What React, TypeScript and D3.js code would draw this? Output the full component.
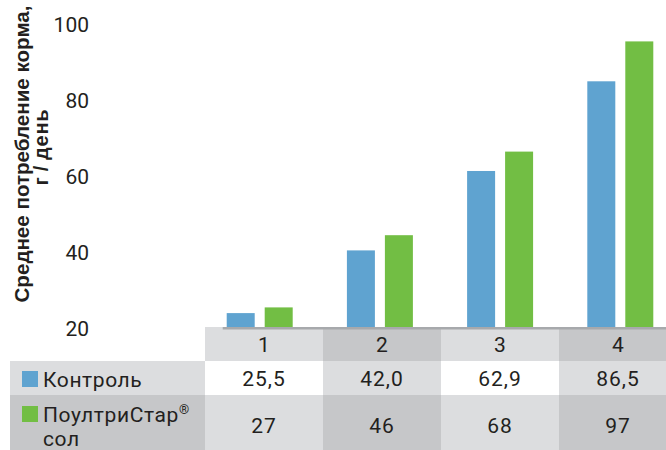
import React from "react";
import * as d3 from "d3";

const categories = ["1", "2", "3", "4"];
const seriesNames = ["Контроль", "ПоултриСтар®"];
const controlValues = [25.5, 42.0, 62.9, 86.5];
const poultryValues = [27, 46, 68, 97];
const yTicks = [20, 40, 60, 80, 100];
const yTitleLine1 = "Среднее потребление корма,";
const yTitleUnitParts = ["г", "/", "день"];

const BLUE = "#5fa3d0";
const GREEN = "#72be44";
const LIGHT = "#dcdddf";
const DARK = "#c6c7c9";
const TEXT = "#231f20";
const FONT = "Roboto, 'Liberation Sans', sans-serif";

const W = 666;
const H = 450;

export default function App() {
  const y = d3.scaleLinear().domain([20, 100]).range([334, 30]);
  const x0 = d3
    .scaleBand<string>()
    .domain(categories)
    .range([199.6, 680.4])
    .paddingInner(0.451)
    .paddingOuter(0.2255);
  const x1 = d3
    .scaleBand<string>()
    .domain(seriesNames)
    .range([0, x0.bandwidth()])
    .paddingInner(0.263)
    .paddingOuter(0);
  const colScale = d3.scaleBand<string>().domain(categories).range([205, 677]);

  const series = [
    { name: seriesNames[0], values: controlValues, color: BLUE, fmt: (v: number) => d3.format(".1f")(v).replace(".", ",") },
    { name: seriesNames[1], values: poultryValues, color: GREEN, fmt: (v: number) => d3.format("d")(v) },
  ];

  const tableTop = 327;
  const headerH = 34;
  const row2Top = tableTop + headerH;
  const row3Top = row2Top + 34;
  const rowTops = [row2Top, row3Top];
  const rowHs = [34, H - row3Top];
  const labelX0 = 10;
  const labelX1 = colScale(categories[0])!;

  const headerFill = (i: number) => (i % 2 === 0 ? LIGHT : DARK);
  const rowFill = (r: number, i: number) =>
    r === 0 ? (i % 2 === 0 ? "#ffffff" : LIGHT) : i % 2 === 0 ? LIGHT : DARK;

  const baseY = y(20);

  return (
    <svg
      width={W}
      height={H}
      viewBox={`0 0 ${W} ${H}`}
      style={{ position: "absolute", left: 0, top: 0, display: "block", background: "#fff" }}
      fontFamily={FONT}
    >
      {/* bars */}
      {categories.map((c, ci) => (
        <g key={c} transform={`translate(${x0(c)},0)`}>
          {series.map((s) => (
            <rect
              key={s.name}
              x={x1(s.name)}
              y={y(s.values[ci])}
              width={x1.bandwidth()}
              height={baseY - y(s.values[ci])}
              fill={s.color}
            />
          ))}
        </g>
      ))}

      {/* y tick labels */}
      {yTicks.map((t) => (
        <text key={t} x={89} y={y(t) - 6 + 7.5} textAnchor="end" fontSize={21} fill={TEXT}>
          {t}
        </text>
      ))}

      {/* y title */}
      <g transform={`translate(0,154)`}>
        <text
          transform="translate(29,0) rotate(-90)"
          textAnchor="middle"
          fontSize={20}
          fontWeight="bold"
          fontFamily="'Liberation Sans', Arial, sans-serif"
          fill={TEXT}
          textLength={297}
          lengthAdjust="spacingAndGlyphs"
        >
          {yTitleLine1}
        </text>
        <text
          transform="translate(48,-7) rotate(-90)"
          textAnchor="middle"
          fontSize={20}
          fontWeight="bold"
          fontFamily="'Liberation Sans', Arial, sans-serif"
          fill={TEXT}
          letterSpacing={0.8}
        >
          <tspan>{yTitleUnitParts[0]}</tspan>
          <tspan dx={5}>{yTitleUnitParts[1]}</tspan>
          <tspan dx={5}>{yTitleUnitParts[2]}</tspan>
        </text>
      </g>

      {/* header row */}
      {categories.map((c, i) => (
        <g key={"h" + c}>
          <rect x={colScale(c)} y={tableTop} width={colScale.bandwidth()} height={headerH} fill={headerFill(i)} />
          <text
            x={colScale(c)! + colScale.bandwidth() / 2}
            y={tableTop + headerH / 2 + 7.5}
            textAnchor="middle"
            fontSize={21}
            fill={TEXT}
          >
            {c}
          </text>
        </g>
      ))}

      {/* data rows */}
      {series.map((s, r) => (
        <g key={"r" + s.name}>
          <rect
            x={labelX0}
            y={rowTops[r]}
            width={labelX1 - labelX0}
            height={rowHs[r]}
            fill={r === 0 ? LIGHT : DARK}
          />
          {categories.map((c, i) => (
            <g key={c}>
              <rect x={colScale(c)} y={rowTops[r]} width={colScale.bandwidth()} height={rowHs[r]} fill={rowFill(r, i)} />
              <text
                x={colScale(c)! + colScale.bandwidth() / 2}
                y={rowTops[r] + (r === 0 ? rowHs[r] / 2 : 30) + 7.5}
                textAnchor="middle"
                fontSize={21}
                letterSpacing={1}
                fill={TEXT}
              >
                {s.fmt(s.values[i])}
              </text>
            </g>
          ))}
        </g>
      ))}

      {/* legend labels */}
      <rect x={22} y={371} width={16} height={16} fill={BLUE} />
      <text x={43} y={386.5} fontSize={21} letterSpacing={0.6} fill={TEXT}>
        {seriesNames[0]}
      </text>
      <rect x={22} y={406} width={16} height={16} fill={GREEN} />
      <text x={43} y={421.5} fontSize={21} letterSpacing={0.6} fill={TEXT}>
        {seriesNames[1].replace("®", "")}
        <tspan fontSize={13} dy={-8}>®</tspan>
      </text>
      <text x={43} y={446} fontSize={21} letterSpacing={0.6} fill={TEXT}>
        сол
      </text>

      {/* baseline */}
      <rect x={x0(categories[0])! - 4} y={tableTop} width={W - (x0(categories[0])! - 4)} height={2.5} fill="#a7a9ac" />
    </svg>
  );
}
